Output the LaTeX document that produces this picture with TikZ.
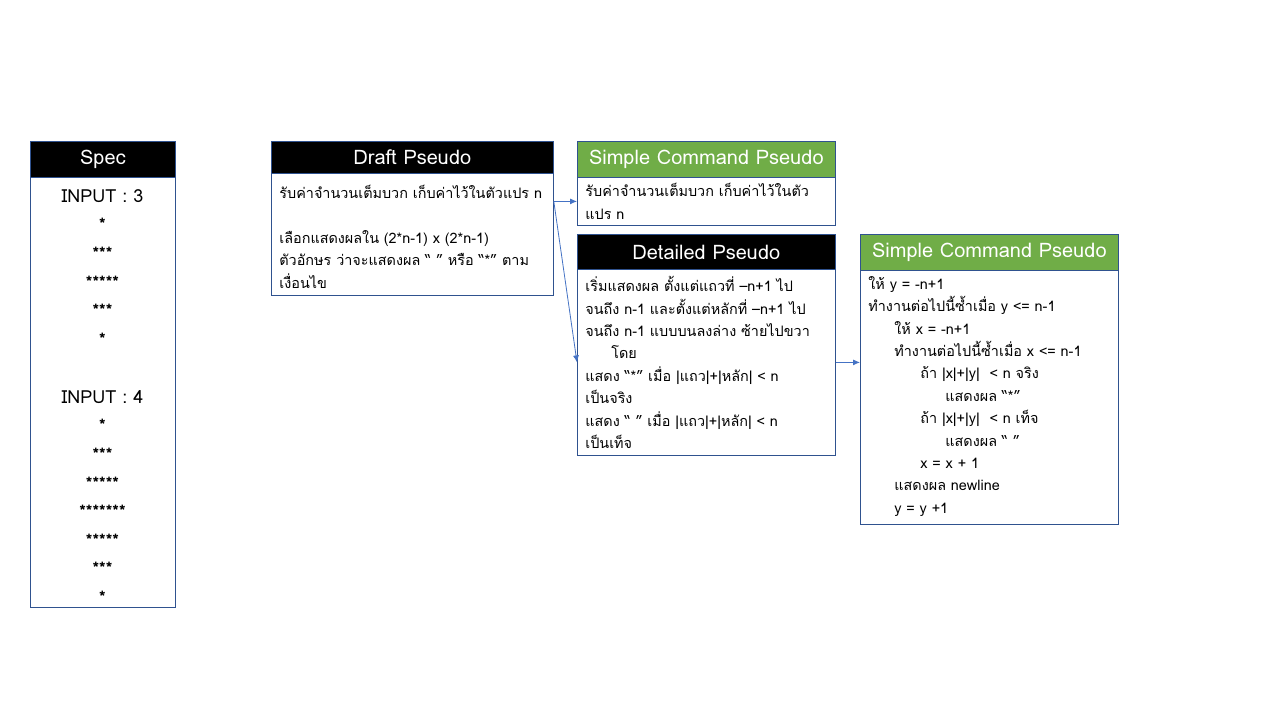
\documentclass[tikz,border=0pt]{standalone}
\usepackage{fontspec}
\newfontfamily\thaifont[Script=Thai]{Loma}
\usetikzlibrary{shapes,arrows.meta}
\definecolor{boxline}{HTML}{2F528F}
\definecolor{headgreen}{HTML}{70AD47}
\definecolor{arrowblue}{HTML}{4472C4}

\begin{document}
\begin{tikzpicture}[x=0.5pt,y=-0.5pt,
        head/.style={draw=boxline,anchor=north west,inner sep=0pt,text=white,font=\thaifont\fontsize{10}{12}\selectfont},
        panel/.style={draw=boxline,anchor=north west,inner sep=0pt},
        body/.style={anchor=north west,inner sep=0pt,align=left,font=\thaifont\fontsize{7.2}{11.2}\selectfont},
        stars/.style={anchor=north,inner sep=0pt,align=center,font=\thaifont\bfseries\fontsize{8.5}{14.3}\selectfont},
        link/.style={draw=arrowblue,-{Latex[length=3.5pt,width=3pt]}}]
        % พื้นหลัง
        \fill[white] (0,0) rectangle (1280,720);
        \useasboundingbox (0,0) rectangle (1280,720);

        % Spec
        \node[head,fill=black,minimum width=72.5pt,minimum height=18pt] (spechead) at (30,141) {Spec};
        \node[panel,minimum width=72.5pt,minimum height=215pt] (specbody) at (30,177) {};
        \node[stars] (spec3) at (102.5,189) {
            {\mdseries\fontsize{9}{10}\selectfont INPUT : 3}\\
            *\\ ***\\ *****\\ ***\\ *
        };
        \node[stars] (spec4) at (102.5,390) {
            {\mdseries\fontsize{9}{10}\selectfont INPUT : 4}\\
            *\\ ***\\ *****\\ *******\\ *****\\ ***\\ *
        };

        % Draft Pseudo
        \node[head,fill=black,minimum width=141pt,minimum height=16pt] (drafthead) at (271,141) {Draft Pseudo};
        \node[panel,minimum width=141pt,minimum height=61pt] (draftbody) at (271,173) {};
        \node[body] (drafttext) at (279,185) {
            รับค่าจำนวนเต็มบวก เก็บค่าไว้ในตัวแปร n\\
            \mbox{}\\
            เลือกแสดงผลใน (2*n-1) x (2*n-1)\\
            ตัวอักษร ว่าจะแสดงผล “ ” หรือ “*” ตาม\\
            เงื่อนไข
        };

        % Simple Command Pseudo (บน)
        \node[head,fill=headgreen,minimum width=129pt,minimum height=18pt] (sconehead) at (577,141) {Simple Command Pseudo};
        \node[panel,minimum width=129pt,minimum height=24pt] (sconebody) at (577,177) {};
        \node[body] (sconetext) at (585,183) {
            รับค่าจำนวนเต็มบวก เก็บค่าไว้ในตัว\\
            แปร n
        };

        % Detailed Pseudo
        \node[head,fill=black,minimum width=129pt,minimum height=17.5pt] (dethead) at (577,234) {Detailed Pseudo};
        \node[panel,minimum width=129pt,minimum height=93pt] (detbody) at (577,269) {};
        \node[body] (dettext) at (585,276) {
            เริ่มแสดงผล ตั้งแต่แถวที่ –n+1 ไป\\
            จนถึง n-1 และตั้งแต่หลักที่ –n+1 ไป\\
            จนถึง n-1 แบบบนลงล่าง ซ้ายไปขวา\\
            \hspace*{13pt}โดย\\
            แสดง “*” เมื่อ |แถว|+|หลัก| < n\\
            เป็นจริง\\
            แสดง “ ” เมื่อ |แถว|+|หลัก| < n\\
            เป็นเท็จ
        };

        % Simple Command Pseudo (ขวา)
        \node[head,fill=headgreen,minimum width=129pt,minimum height=18pt] (sctwohead) at (860,234) {Simple Command Pseudo};
        \node[panel,minimum width=129pt,minimum height=127pt] (sctwobody) at (860,270) {};
        \node[body] (sctwotext) at (868,276) {
            ให้ y = -n+1\\
            ทำงานต่อไปนี้ซ้ำเมื่อ y <= n-1\\
            \hspace*{13pt}ให้ x = -n+1\\
            \hspace*{13pt}ทำงานต่อไปนี้ซ้ำเมื่อ x <= n-1\\
            \hspace*{26pt}ถ้า |x|+|y| \ < n จริง\\
            \hspace*{38.5pt}แสดงผล “*”\\
            \hspace*{26pt}ถ้า |x|+|y| \ < n เท็จ\\
            \hspace*{38.5pt}แสดงผล “ ”\\
            \hspace*{26pt}x = x + 1\\
            \hspace*{13pt}แสดงผล newline\\
            \hspace*{13pt}y = y +1
        };

        % ลูกศร
        \draw[link] (draftbody.east |- sconebody.west) -- (sconebody.west);
        \draw[link] (draftbody.east |- sconebody.west) -- (detbody.west);
        \draw[link] (detbody.east) -- (sctwobody.west |- detbody.east);
    \end{tikzpicture}
\end{document}
